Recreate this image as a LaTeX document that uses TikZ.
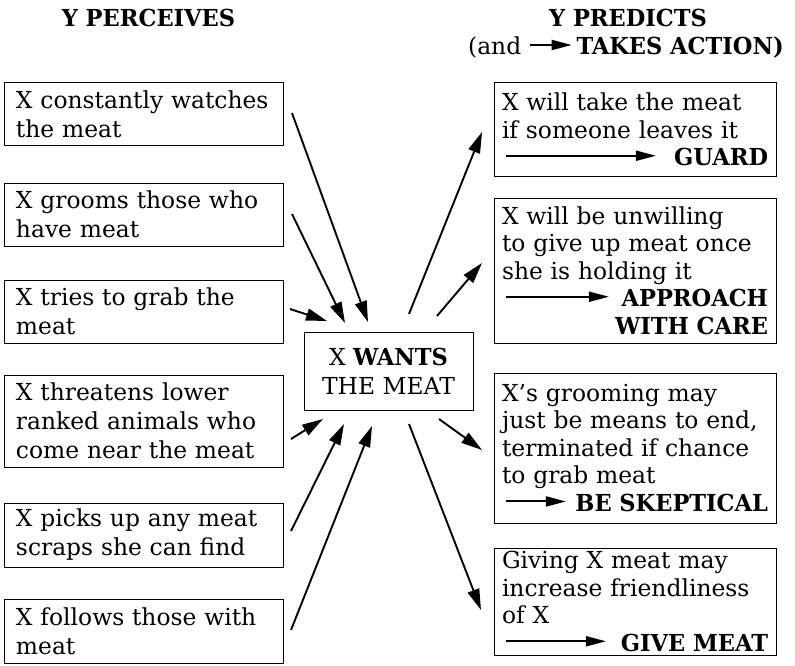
\documentclass[tikz,border=0pt]{standalone}
\usepackage{fontspec}
\setmainfont{DejaVu Serif}[BoldFont={DejaVu Serif Condensed Bold},BoldFeatures={FakeStretch=1.07}]
\usetikzlibrary{arrows.meta}
\newcommand{\inarrow}[1]{\tikz[baseline=-10pt]\draw[line width=1.9pt,-{Triangle[length=20pt,width=10pt]}] (0pt,0pt) -- (#1,0pt);}
\tikzset{
  txt/.style={font=\fontsize{23.4}{29}\selectfont},
  lbox/.style={draw, line width=1pt, txt, align=left, text width=255pt, inner xsep=12pt, inner ysep=2pt},
  rbox/.style={draw, line width=1pt, font=\fontsize{23.4}{27.5}\selectfont, align=left, text width=266pt, inner xsep=8pt, inner ysep=2pt},
  cbox/.style={draw, line width=1pt, txt, align=center, minimum width=169pt, minimum height=78pt, inner sep=2pt},
  arr/.style={line width=1.9pt, -{Triangle[length=21pt,width=12pt]}},
  ttl/.style={txt, anchor=base}
}
\begin{document}
\begin{tikzpicture}[x=1pt,y=-1pt]
\useasboundingbox (0,0) rectangle (795,666);
% titles
\node[ttl] (t1) at (148.5,27) {\textbf{Y PERCEIVES}};
\node[ttl] (t2) at (628,27) {\textbf{Y PREDICTS}};
\node[ttl] (t3) at (626,55) {(and \inarrow{42pt}\,\textbf{TAKES ACTION)}};
% left boxes
\node[lbox, minimum height=63pt] (L1) at (143.5,114.5) {X constantly watches\\the meat};
\node[lbox, minimum height=63pt] (L2) at (143.5,214.5) {X grooms those who\\have meat};
\node[lbox, minimum height=63pt] (L3) at (143.5,311.5) {X tries to grab the\\meat};
\node[lbox, minimum height=92pt] (L4) at (143.5,421) {X threatens lower\\ranked animals who\\come near the meat};
\node[lbox, minimum height=64pt] (L5) at (143.5,535) {X picks up any meat\\scraps she can find};
\node[lbox, minimum height=64pt] (L6) at (143.5,631) {X follows those with\\meat};
% centre
\node[cbox] (C) at (388.5,371) {X \textbf{WANTS}\\THE MEAT};
% right boxes
\node[rbox, minimum height=93pt] (R1) at (635,129.5) {X will take the meat\\if someone leaves it\\\hspace*{3pt}\inarrow{150pt}\hfill\textbf{GUARD}};
\node[rbox, minimum height=145pt] (R2) at (635,270.5) {X will be unwilling\\to give up meat once\\she is holding it\\\hspace*{3pt}\inarrow{103pt}\hfill\textbf{APPROACH}\\\hfill\textbf{WITH CARE}};
\node[rbox, minimum height=150pt] (R3) at (635,448) {X's grooming may\\just be means to end,\\terminated if chance\\to grab meat\\\hspace*{3pt}\inarrow{60pt}\hfill\textbf{BE SKEPTICAL}};
\node[rbox, minimum height=107pt] (R4) at (635,601.5) {Giving X meat may\\increase friendliness\\of X\\\hspace*{3pt}\inarrow{100pt}\hfill\textbf{GIVE MEAT}};
% arrow end points
\coordinate (a1s) at (292,113); \coordinate (a1e) at (368,322);
\coordinate (a2s) at (292,214); \coordinate (a2e) at (345,323);
\coordinate (a3s) at (290,309); \coordinate (a3e) at (327,321);
\coordinate (a4s) at (291,439); \coordinate (a4e) at (323,419);
\coordinate (a5s) at (291,531); \coordinate (a5e) at (344,424);
\coordinate (a6s) at (291,630); \coordinate (a6e) at (372,426);
\coordinate (b1s) at (409,314); \coordinate (b1e) at (482,132);
\coordinate (b2s) at (437,316); \coordinate (b2e) at (482,263);
\coordinate (b3s) at (439,419); \coordinate (b3e) at (482,450);
\coordinate (b4s) at (409,424); \coordinate (b4e) at (481,610);
\draw[arr] (a1s) -- (a1e);
\draw[arr] (a2s) -- (a2e);
\draw[arr] (a3s) -- (a3e);
\draw[arr] (a4s) -- (a4e);
\draw[arr] (a5s) -- (a5e);
\draw[arr] (a6s) -- (a6e);
\draw[arr] (b1s) -- (b1e);
\draw[arr] (b2s) -- (b2e);
\draw[arr] (b3s) -- (b3e);
\draw[arr] (b4s) -- (b4e);
\end{tikzpicture}
\end{document}
